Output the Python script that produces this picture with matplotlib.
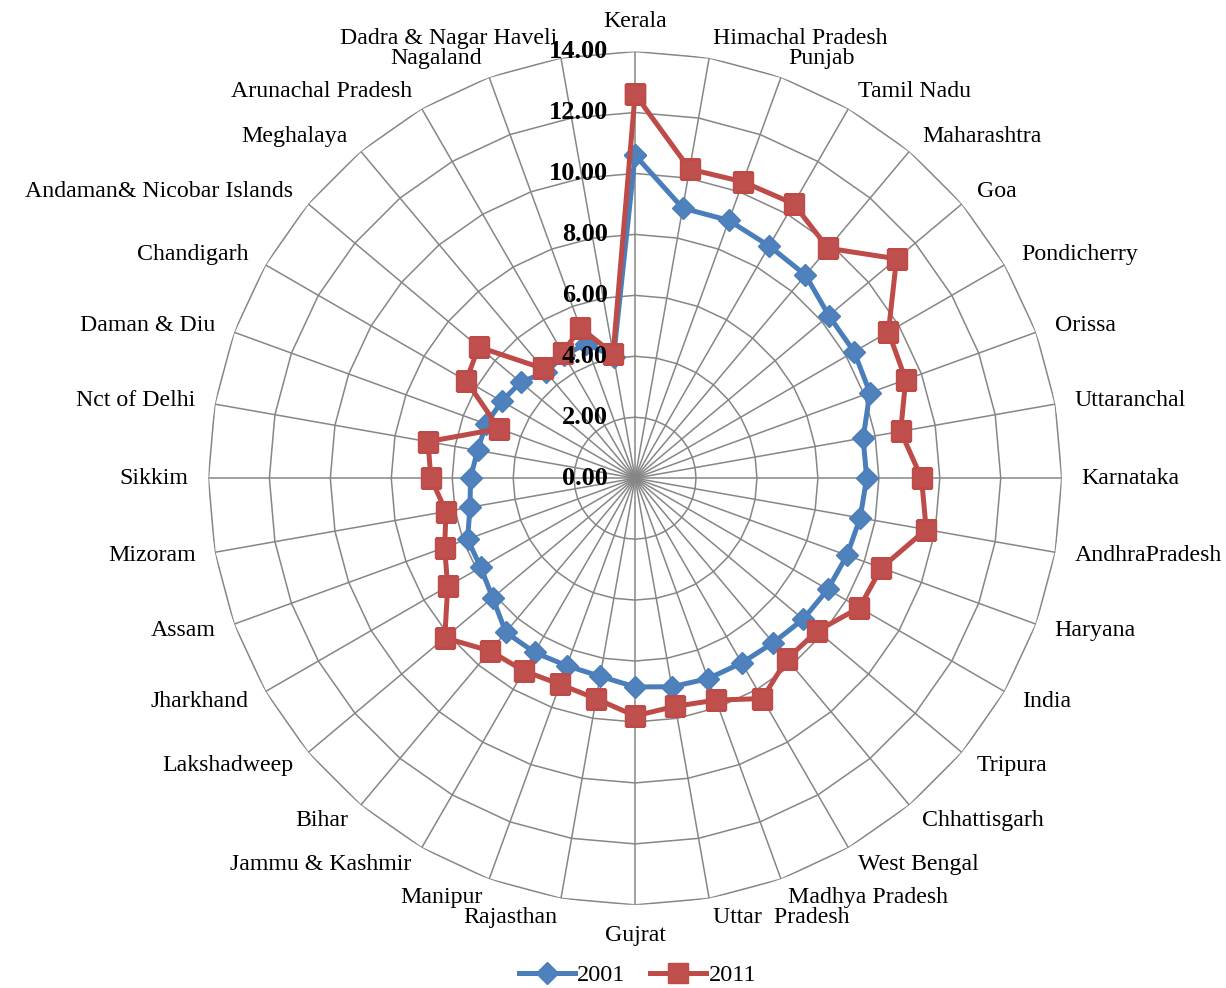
import numpy as np
import matplotlib
matplotlib.use('Agg')
import matplotlib.pyplot as plt

plt.rcParams['font.family'] = ['Liberation Serif', 'DejaVu Serif']

# states in clockwise order starting from the top spoke
states = ['Kerala', 'Himachal Pradesh', 'Punjab', 'Tamil Nadu', 'Maharashtra', 'Goa',
          'Pondicherry', 'Orissa', 'Uttaranchal', 'Karnataka', 'AndhraPradesh', 'Haryana',
          'India', 'Tripura', 'Chhattisgarh', 'West Bengal', 'Madhya Pradesh', 'Uttar  Pradesh',
          'Gujrat', 'Rajasthan', 'Manipur', 'Jammu & Kashmir', 'Bihar', 'Lakshadweep',
          'Jharkhand', 'Assam', 'Mizoram', 'Sikkim', 'Nct of Delhi', 'Daman & Diu',
          'Chandigarh', 'Andaman& Nicobar Islands', 'Meghalaya', 'Arunachal Pradesh',
          'Nagaland', 'Dadra & Nagar Haveli']

vals_2001 = [10.6, 9.0, 9.0, 8.8, 8.7, 8.3, 8.3, 8.2, 7.6, 7.6, 7.5, 7.4,
             7.3, 7.2, 7.05, 7.0, 7.0, 6.95, 6.85, 6.6, 6.55, 6.6, 6.6, 6.1,
             5.85, 5.85, 5.5, 5.4, 5.25, 5.2, 5.05, 4.9, 4.55, 4.65, 4.7, 4.05]

vals_2011 = [12.6, 10.3, 10.35, 10.4, 9.85, 11.2, 9.6, 9.45, 8.85, 9.4, 9.7, 8.6,
             8.5, 7.8, 7.75, 8.35, 7.75, 7.6, 7.8, 7.35, 7.2, 7.3, 7.4, 8.15,
             7.1, 6.65, 6.3, 6.7, 6.9, 4.75, 6.4, 6.7, 4.7, 4.75, 5.25, 4.15]

levels = [0, 2, 4, 6, 8, 10, 12, 14]

n = len(states)
angles = np.linspace(0, 2 * np.pi, n, endpoint=False)
closed = np.append(angles, angles[0])

fig = plt.figure(figsize=(12.26, 9.88), dpi=100)
ax = fig.add_axes([0.170, 0.084, 0.696, 0.864], projection='polar')
ax.set_theta_zero_location('N')
ax.set_theta_direction(-1)
ax.set_ylim(0, 14)
ax.set_xticks([])
ax.set_yticks([])
ax.grid(False)
ax.spines['polar'].set_visible(False)

grid_col = '#868686'
# spokes
for a in angles:
    ax.plot([a, a], [0, 14], color=grid_col, lw=1.1, zorder=1)
# polygon rings
for lv in levels[1:]:
    ax.plot(closed, [lv] * (n + 1), color=grid_col, lw=1.1, zorder=1)

# the two series
ax.plot(closed, vals_2001 + vals_2001[:1], color='#4A7EBB', lw=3.6, marker='D',
        markersize=11, markerfacecolor='#4F81BD', markeredgecolor='#4A7EBB',
        label='2001', zorder=3)
ax.plot(closed, vals_2011 + vals_2011[:1], color='#BE4B48', lw=3.6, marker='s',
        markersize=14, markerfacecolor='#C0504D', markeredgecolor='#BE4B48',
        label='2011', zorder=4)

# value labels up the top spoke
for lv in levels:
    ax.annotate('%.2f' % lv, xy=(0, lv), xytext=(-27, 0), textcoords='offset pixels',
                ha='right', va='center', fontsize=19, fontweight='bold', zorder=6)

# category labels round the outside
for a, name in zip(angles, states):
    s, c = np.sin(a), np.cos(a)
    if abs(s) < 0.01:
        ha = 'center'
        va = 'bottom' if c > 0 else 'top'
    else:
        ha = 'left' if s > 0 else 'right'
        va = 'center'
    ax.text(a, 14.65, name, ha=ha, va=va, fontsize=17.2)

fig.legend(loc='center', bbox_to_anchor=(0.52, 0.013), ncol=2, frameon=False,
           fontsize=17.5, handlelength=2.3, numpoints=1, columnspacing=1.0,
           handletextpad=0.1)

plt.savefig('out.png', dpi=100)
